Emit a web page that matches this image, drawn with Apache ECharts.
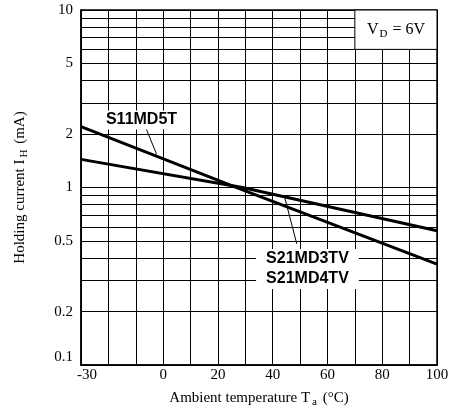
<!DOCTYPE html>
<html>
<head>
<meta charset="utf-8">
<script src="https://cdn.jsdelivr.net/npm/echarts@6/dist/echarts.min.js"></script>
<style>
html,body{margin:0;padding:0;background:#fff;}
#c{width:458px;height:416px;}
</style>
</head>
<body>
<div id="c"></div>
<script>
// Ambient temperature (°C) at which the lines are read
const temperature = [-30, 29, 100];
// Holding current (mA)
const s11md5t = [2.2, 0.97, 0.37];
const s21md3tv = [1.44, 1.0, 0.57];

// Tick labels
const xTickLabels = [-30, 0, 20, 40, 60, 80, 100];
const yTickLabels = [0.1, 0.2, 0.5, 1, 2, 5, 10];
const yGridValues = [0.1, 0.2, 0.3, 0.4, 0.5, 0.6, 0.7, 0.8, 0.9, 1, 2, 3, 4, 5, 6, 7, 8, 9, 10];

// Annotation anchors (data space)
const s11LabelAt = [-7.9, 2.4];
const s11Pointer = [[-6.3, 2.16], [-2.4, 1.54]];
const s21LabelAt = [52.7, 0.347];
const s21Pointer = [[48.8, 0.481], [44.3, 0.89]];
const vdBox = [[70, 6], [100, 10]];

const serif = '"Liberation Serif", "Times New Roman", serif';
const sans = '"Liberation Sans", Arial, sans-serif';

const chart = echarts.init(document.getElementById('c'), null, {renderer: 'canvas'});

const pair = (xs, ys) => xs.map((x, i) => [x, ys[i]]);

chart.setOption({
  animation: false,
  backgroundColor: '#fff',
  grid: {left: 81, right: 21, top: 10, bottom: 51, show: true, borderColor: '#000', borderWidth: 1.5, backgroundColor: 'transparent'},
  xAxis: {
    type: 'value', min: -30, max: 100, interval: 10,
    name: 'Ambient temperature T{s|a} (°C)',
    nameLocation: 'middle', nameGap: 24,
    nameTextStyle: {fontFamily: serif, fontSize: 15, color: '#000', rich: {s: {fontFamily: serif, fontSize: 11, color: '#000', padding: [8, 2, 0, 2]}}},
    axisLine: {show: true, onZero: false, lineStyle: {color: '#000', width: 1.5}},
    axisTick: {show: false},
    axisLabel: {
      customValues: xTickLabels, margin: 3, fontFamily: serif, fontSize: 15, color: '#000',
      formatter: v => v === -30 ? '{m|-30}' : String(v),
      rich: {m: {fontFamily: serif, fontSize: 15, color: '#000', padding: [0, 0, 0, 12]}}
    },
    splitLine: {show: true, lineStyle: {color: '#000', width: 1}}
  },
  yAxis: {
    type: 'log', logBase: 10, min: 0.1, max: 10,
    name: 'Holding current I{s|H} (mA)',
    nameLocation: 'middle', nameGap: 51,
    nameTextStyle: {fontFamily: serif, fontSize: 15, color: '#000', rich: {s: {fontFamily: serif, fontSize: 11, color: '#000', padding: [8, 2, 0, 2]}}},
    axisLine: {show: true, onZero: false, lineStyle: {color: '#000', width: 1.5}},
    axisTick: {show: false, customValues: yGridValues},
    axisLabel: {
      customValues: yTickLabels, margin: 8, fontFamily: serif, fontSize: 15, color: '#000',
      verticalAlignMinLabel: 'bottom',
      formatter: v => String(Math.round(v * 100) / 100)
    },
    splitLine: {show: true, lineStyle: {color: '#000', width: 1}}
  },
  series: [
    {
      name: 'S11MD5T', type: 'line', data: pair(temperature, s11md5t),
      symbol: 'none', z: 5,
      lineStyle: {color: '#000', width: 3},
      markArea: {
        silent: true,
        itemStyle: {color: '#fff', borderColor: '#000', borderWidth: 1},
        label: {
          show: true, position: 'inside', formatter: 'V{s|D} = 6V',
          fontFamily: serif, fontSize: 16, color: '#000',
          rich: {s: {fontFamily: serif, fontSize: 11, color: '#000', padding: [8, 1, 0, 1]}}
        },
        data: [[{coord: vdBox[0]}, {coord: vdBox[1]}]]
      },
      markLine: {
        silent: true, symbol: ['none', 'none'],
        lineStyle: {color: '#000', width: 1, type: 'solid'},
        label: {show: false},
        data: [[{coord: s11Pointer[0]}, {coord: s11Pointer[1]}]]
      },
      markPoint: {
        silent: true, symbol: 'rect', symbolSize: 1,
        itemStyle: {color: 'rgba(0,0,0,0)'},
        label: {
          show: true, position: 'inside', formatter: 'S11MD5T',
          fontFamily: sans, fontWeight: 'bold', fontSize: 16, color: '#000',
          backgroundColor: '#fff', padding: [1, 2], lineHeight: 17
        },
        data: [{coord: s11LabelAt}]
      }
    },
    {
      name: 'S21MD3TV / S21MD4TV', type: 'line', data: pair(temperature, s21md3tv),
      symbol: 'none', z: 5,
      lineStyle: {color: '#000', width: 3},
      markLine: {
        silent: true, symbol: ['none', 'none'],
        lineStyle: {color: '#000', width: 1, type: 'solid'},
        label: {show: false},
        data: [[{coord: s21Pointer[0]}, {coord: s21Pointer[1]}]]
      },
      markPoint: {
        silent: true, symbol: 'rect', symbolSize: 1,
        itemStyle: {color: 'rgba(0,0,0,0)'},
        label: {
          show: true, position: 'inside', formatter: 'S21MD3TV\nS21MD4TV',
          fontFamily: sans, fontWeight: 'bold', fontSize: 16, color: '#000',
          backgroundColor: '#fff', padding: [0, 10], lineHeight: 20
        },
        data: [{coord: s21LabelAt}]
      }
    }
  ]
});
</script>
</body>
</html>
